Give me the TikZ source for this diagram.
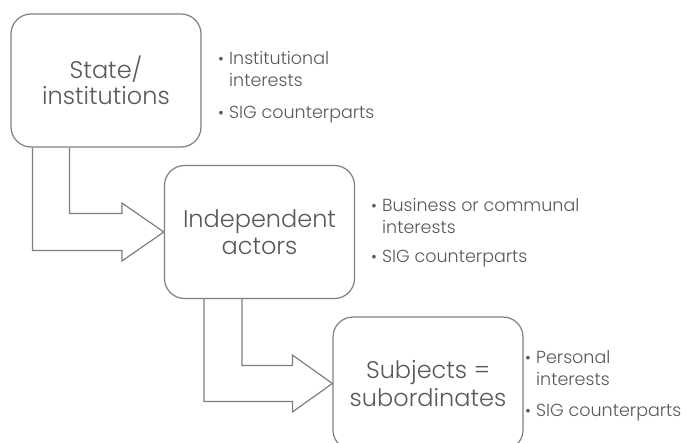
\documentclass[tikz,border=0pt]{standalone}
\usepackage{fontspec}
\setmainfont{Poppins}[UprightFont=* Light]
\usetikzlibrary{calc,backgrounds}
\definecolor{txt}{HTML}{595959}
\definecolor{ln}{HTML}{7F7F7F}
\newcommand{\bt}{\makebox[11pt][l]{\fontsize{16}{16}\selectfont•}}
\newcommand{\nbt}{\hspace*{11pt}}
\begin{document}
\begin{tikzpicture}[x=1pt,y=-1pt,
  box/.style={draw=ln, line width=1.2pt, rounded corners=20pt, minimum width=190pt,
    minimum height=133pt, inner sep=0pt, align=center,
    font=\fontsize{24}{26.5}\selectfont, text=txt, fill=white},
  arr/.style={draw=ln, line width=1.2pt, fill=white, line join=miter},
  bul/.style={anchor=base west, align=left, font=\fontsize{17.5}{22}\selectfont,
    text=txt, inner sep=0pt}]
\useasboundingbox (0,0) rectangle (687,443);
\clip (0,0) rectangle (687,443);
% boxes
\path (106,80.5) node[box] (b1) {State/\\institutions};
\path (259.5,232) node[box] (b2) {Independent\\actors};
\path (428,383.5) node[box] (b3) {Subjects =\\[2pt]subordinates};
\begin{pgfonlayer}{background}
% arrow 1
\coordinate (t1) at (b2.west);
\coordinate (a1l) at ($(b1.south west)+(22,0)$);
\coordinate (a1r) at ($(b1.south west)+(59,0)$);
\coordinate (t1lo) at ($(t1)+(-42,18.5)$);
\coordinate (t1hl) at ($(t1)+(-42,29)$);
\coordinate (t1hu) at ($(t1)+(-42,-29)$);
\coordinate (t1up) at ($(t1)+(-42,-18.5)$);
\draw[arr] (a1l) -- (a1l |- t1lo) -- (t1lo) -- (t1hl) -- (t1) -- (t1hu) -- (t1up)
  -- (a1r |- t1up) -- (a1r);
% arrow 2
\coordinate (t2) at (b3.west);
\coordinate (a2l) at ($(b2.south west)+(40,0)$);
\coordinate (a2r) at ($(b2.south west)+(78,0)$);
\coordinate (t2lo) at ($(t2)+(-40,18)$);
\coordinate (t2hl) at ($(t2)+(-40,28.5)$);
\coordinate (t2hu) at ($(t2)+(-40,-28.5)$);
\coordinate (t2up) at ($(t2)+(-40,-18)$);
\draw[arr] (a2l) -- (a2l |- t2lo) -- (t2lo) -- (t2hl) -- (t2) -- (t2hu) -- (t2up)
  -- (a2r |- t2up) -- (a2r);
\end{pgfonlayer}
% bullets
\node[bul] (i1a) at (218,87) {\bt Institutional\\\nbt interests};
\node[bul] (i1b) at (218,119) {\bt SIG counterparts};
\node[bul] (i2a) at (371,234) {\bt Business or communal\\\nbt interests};
\node[bul] (i2b) at (371,263) {\bt SIG counterparts};
\node[bul] (i3a) at (525,385) {\bt Personal\\\nbt interests};
\node[bul] (i3b) at (525,416) {\bt SIG counterparts};
\end{tikzpicture}
\end{document}
